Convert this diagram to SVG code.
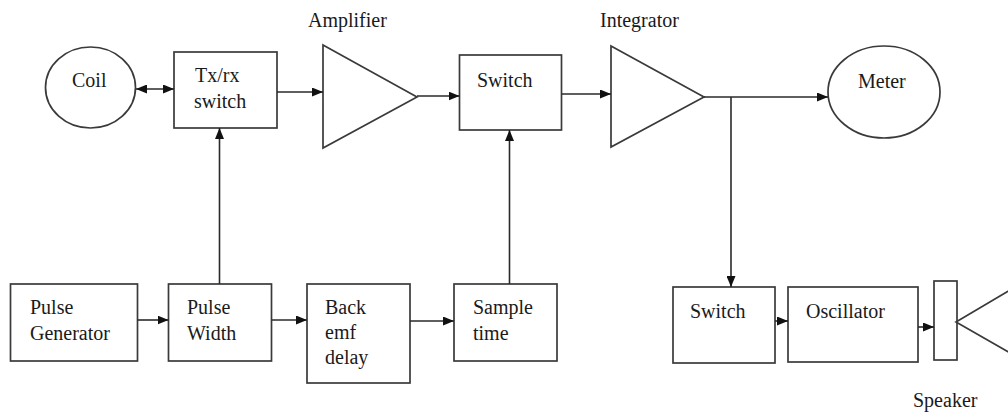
<svg xmlns="http://www.w3.org/2000/svg" width="1008" height="414" viewBox="0 0 1008 414">
<defs>
<style>
.n{fill:#fff;stroke:#3a3a3a;stroke-width:1.7}
.c{fill:none;stroke:#2a2a2a;stroke-width:1.6}
text{font-family:"Liberation Serif","Times New Roman",serif;font-size:20px;fill:#1a1a1a}
</style>
<marker id="ah" viewBox="0 0 11 9" refX="11" refY="4.5" markerWidth="11" markerHeight="9" markerUnits="userSpaceOnUse" orient="auto-start-reverse">
<path d="M0,0 L11,4.5 L0,9 z" fill="#111"/>
</marker>
</defs>
<rect width="1008" height="414" fill="#fff"/>
<g id="coil"><ellipse class="n" cx="90.5" cy="87.5" rx="45" ry="40.5"/><text x="72" y="87">Coil</text></g>
<g id="txrx"><rect class="n" x="174" y="52" width="103" height="76"/><text x="195" y="82">Tx/rx</text><text x="194" y="108">switch</text></g>
<g id="amplifier"><polygon class="n" points="323,45 417,97 323,148"/><text x="308" y="27">Amplifier</text></g>
<g id="switch1"><rect class="n" x="459.5" y="55" width="102" height="75"/><text x="477" y="87">Switch</text></g>
<g id="integrator"><polygon class="n" points="611,46 704,97 611,147"/><text x="600" y="27">Integrator</text></g>
<g id="meter"><ellipse class="n" cx="884" cy="92" rx="56" ry="46"/><text x="858" y="88">Meter</text></g>
<g id="pulsegen"><rect class="n" x="10.5" y="284" width="127" height="77"/><text x="30" y="314">Pulse</text><text x="30" y="340">Generator</text></g>
<g id="pulsewidth"><rect class="n" x="168.5" y="284" width="103" height="77"/><text x="187" y="314">Pulse</text><text x="187" y="340">Width</text></g>
<g id="backemf"><rect class="n" x="307" y="284" width="103" height="99"/><text x="325" y="314">Back</text><text x="325" y="339">emf</text><text x="325" y="364">delay</text></g>
<g id="sampletime"><rect class="n" x="454" y="284" width="103" height="77"/><text x="473" y="314">Sample</text><text x="473" y="340">time</text></g>
<g id="switch2"><rect class="n" x="673" y="287" width="102" height="76"/><text x="690" y="318">Switch</text></g>
<g id="oscillator"><rect class="n" x="788" y="287" width="130" height="75"/><text x="806" y="318">Oscillator</text></g>
<g id="speaker"><rect class="n" x="934" y="281" width="23" height="79"/><polygon class="n" points="956,322 1012,289 1012,354"/><text x="913" y="407">Speaker</text></g>
<g id="connectors">
<line class="c" x1="136" y1="89" x2="174" y2="89" marker-start="url(#ah)" marker-end="url(#ah)"/>
<line class="c" x1="277" y1="92" x2="323" y2="92" marker-end="url(#ah)"/>
<line class="c" x1="417" y1="96" x2="459.5" y2="96" marker-end="url(#ah)"/>
<line class="c" x1="561.5" y1="94" x2="611" y2="94" marker-end="url(#ah)"/>
<line class="c" x1="704" y1="97" x2="828" y2="97" marker-end="url(#ah)"/>
<line class="c" x1="731" y1="97" x2="731" y2="287" marker-end="url(#ah)"/>
<line class="c" x1="137.5" y1="320" x2="168.5" y2="320" marker-end="url(#ah)"/>
<line class="c" x1="219.5" y1="284" x2="219.5" y2="128" marker-end="url(#ah)"/>
<line class="c" x1="271.5" y1="320" x2="307" y2="320" marker-end="url(#ah)"/>
<line class="c" x1="410" y1="321" x2="454" y2="321" marker-end="url(#ah)"/>
<line class="c" x1="509.5" y1="284" x2="509.5" y2="130" marker-end="url(#ah)"/>
<line class="c" x1="775" y1="321" x2="788" y2="321" marker-end="url(#ah)"/>
<line class="c" x1="918" y1="327" x2="934" y2="327" marker-end="url(#ah)"/>
</g>
</svg>
